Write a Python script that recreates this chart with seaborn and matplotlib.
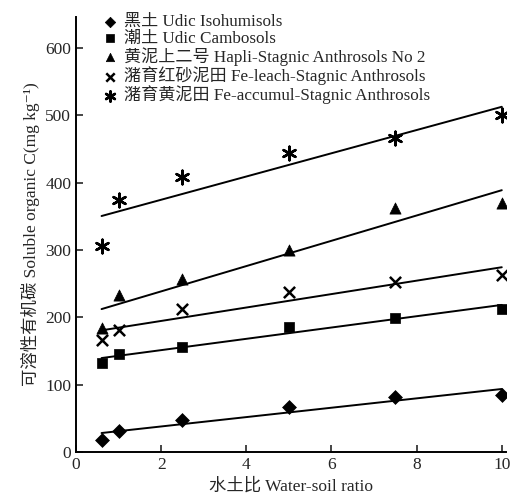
import numpy as np
import matplotlib.pyplot as plt
import seaborn as sns

sns.set_style('ticks')
plt.rcParams['font.family'] = ['Liberation Serif', 'Noto Sans CJK SC', 'DejaVu Serif']

# water-soil ratios
ratio = [0.6, 1, 2.5, 5, 7.5, 10]

# soluble organic C (mg/kg)
udic_isohumisols = [18, 31, 47, 67, 81, 85]
udic_cambosols = [132, 145, 156, 185, 199, 213]
hapli_stagnic = [184, 233, 257, 300, 362, 369]
fe_leach = [166, 181, 212, 238, 253, 263]
fe_accumul = [306, 374, 408, 444, 466, 501]

series = [udic_isohumisols, udic_cambosols, hapli_stagnic, fe_leach, fe_accumul]
labels = ['黑土 Udic Isohumisols',
          '潮土 Udic Cambosols',
          '黄泥上二号 Hapli-Stagnic Anthrosols No 2',
          '潴育红砂泥田 Fe-leach-Stagnic Anthrosols',
          '潴育黄泥田 Fe-accumul-Stagnic Anthrosols']
markers = ['D', 's', '^', 'x', (6, 2, 0)]
sizes = [50, 60, 65, 65, 95]

fig = plt.figure(figsize=(5.15, 5.03), dpi=100)
ax = fig.add_axes([0.1476, 0.1014, 0.835, 0.865])

for y, lab, m, s in zip(series, labels, markers, sizes):
    sns.regplot(x=ratio, y=y, ax=ax, ci=None, color='black', marker=m,
                scatter_kws={'s': s, 'linewidths': 1.8 if m in ('x', (6, 2, 0)) else 0.5,
                             'alpha': 1},
                line_kws={'lw': 1.4})

handles = ax.collections[:len(labels)]
leg = ax.legend(handles, labels, loc='upper left', bbox_to_anchor=(0.035, 1.03),
                frameon=False, fontsize=12.3, labelspacing=0.03,
                handletextpad=0.35, handlelength=1.0, markerscale=0.75,
                borderaxespad=0.2)

ax.set_xlim(0, 10.1)
ax.set_ylim(0, 646)
ax.set_xticks([0, 2, 4, 6, 8, 10])
ax.set_yticks([0, 100, 200, 300, 400, 500, 600])
ax.tick_params(direction='in', labelsize=12.5, length=5, width=1.2)
ax.set_xlabel('水土比 Water-soil ratio', fontsize=12.5)
ax.set_ylabel('可溶性有机碳 Soluble organic C(mg kg⁻¹)', fontsize=12.5)
for sp in ['left', 'bottom']:
    ax.spines[sp].set_linewidth(1.4)
    ax.spines[sp].set_color('black')
sns.despine(ax=ax)

fig.savefig('out.png', dpi=100)
